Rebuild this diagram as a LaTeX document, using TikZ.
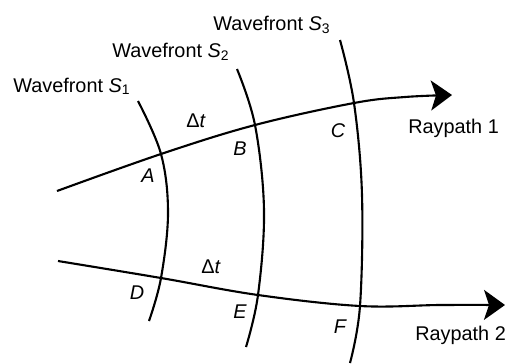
\documentclass[tikz,border=0pt]{standalone}
\usepackage{fontspec}
\setmainfont{Liberation Sans}
\usetikzlibrary{arrows.meta}

\begin{document}
\begin{tikzpicture}[x=0.02cm, y=-0.02cm, font=\fontsize{11.3}{13}\selectfont,
  front/.style={line width=1.2pt},
  ray/.style={line width=1.2pt, -{Stealth[length=0.42cm, width=0.6cm, inset=0.1cm]}},
  pt/.style={anchor=base, inner sep=0pt, font=\fontsize{11.3}{13}\selectfont\itshape},
  tag/.style={anchor=base west, inner sep=0pt}]
\useasboundingbox (0,0) rectangle (505,363);
% crossing points
\coordinate (A) at (161,154);
\coordinate (B) at (255,125);
\coordinate (C) at (354,103);
\coordinate (D) at (161,278);
\coordinate (E) at (258,295);
\coordinate (F) at (360,306);
% wavefront ends
\coordinate (s1top) at (138,101);
\coordinate (s1mid) at (168,213);
\coordinate (s1bot) at (149,321);
\coordinate (s2top) at (237,69);
\coordinate (s2mid) at (264,210);
\coordinate (s2bot) at (246,347);
\coordinate (s3top) at (340,40);
\coordinate (s3mid) at (362,195);
\coordinate (s3bot) at (350,363);
% ray ends
\coordinate (r1start) at (57,191);
\coordinate (r1mid) at (405,97);
\coordinate (r1end) at (452,95);
\coordinate (r2start) at (58,261);
\coordinate (r2mid) at (440,305);
\coordinate (r2end) at (505,305);
% wavefronts
\draw[front] plot[smooth, tension=0.6] coordinates {(s1top) (A) (s1mid) (D) (s1bot)};
\draw[front] plot[smooth, tension=0.6] coordinates {(s2top) (B) (s2mid) (E) (s2bot)};
\draw[front] plot[smooth, tension=0.6] coordinates {(s3top) (C) (s3mid) (F) (s3bot)};
% raypaths
\draw[ray] plot[smooth, tension=0.6] coordinates {(r1start) (A) (B) (C) (r1mid) (r1end)};
\draw[ray] plot[smooth, tension=0.6] coordinates {(r2start) (D) (E) (F) (r2mid) (r2end)};
% labels
\node[tag] (w1) at (13,92) {Wavefront \textit{S}\textsubscript{1}};
\node[tag] (w2) at (112,57) {Wavefront \textit{S}\textsubscript{2}};
\node[tag] (w3) at (213,30) {Wavefront \textit{S}\textsubscript{3}};
\node[tag] (rp1) at (408,133) {Raypath 1};
\node[tag] (rp2) at (415,340) {Raypath 2};
\node[anchor=base, inner sep=0pt] (dt1) at (196,127) {Δ\textit{t}};
\node[anchor=base, inner sep=0pt] (dt2) at (211,273) {Δ\textit{t}};
\node[pt] (la) at (148,182) {A};
\node[pt] (lb) at (240,155) {B};
\node[pt] (lc) at (338,137) {C};
\node[pt] (ld) at (137,299) {D};
\node[pt] (le) at (240,318) {E};
\node[pt] (lf) at (340,333) {F};
\end{tikzpicture}
\end{document}
